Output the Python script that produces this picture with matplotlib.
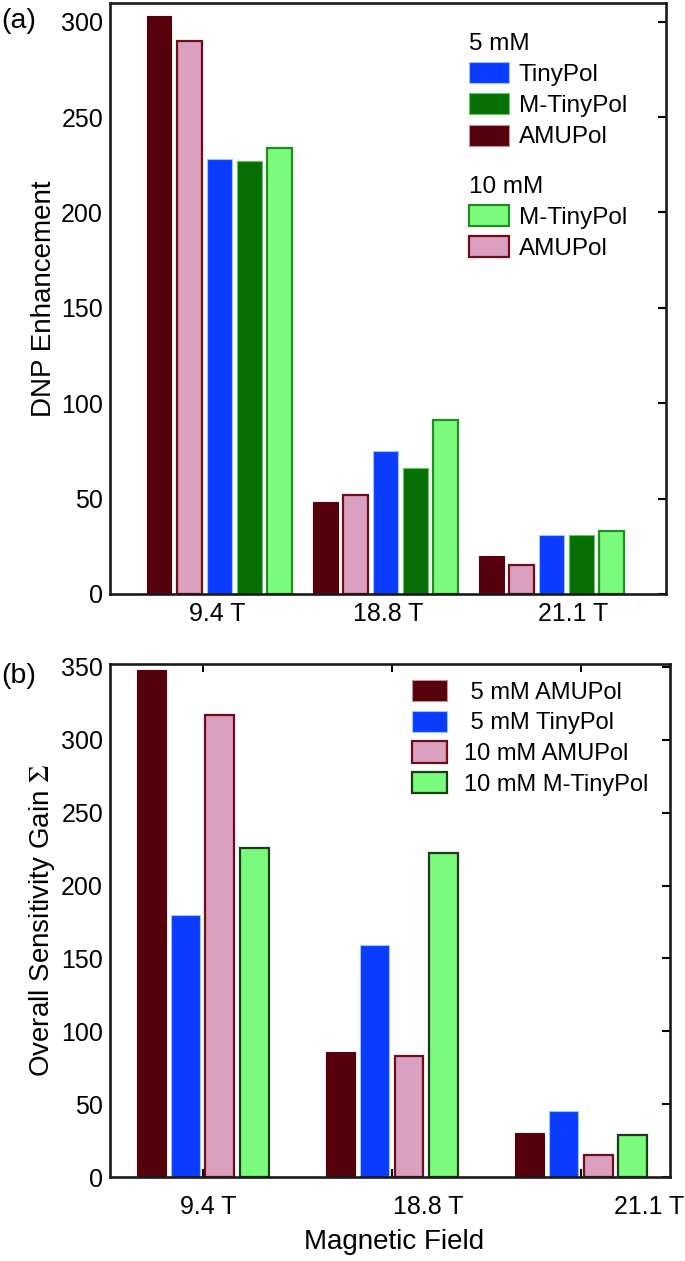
import matplotlib
matplotlib.use("Agg")
import matplotlib.pyplot as plt
import numpy as np
from matplotlib.patches import Patch

plt.rcParams['font.family'] = ['Liberation Sans', 'DejaVu Sans']
plt.rcParams['mathtext.fontset'] = 'stix'

# data
fields_a = ['9.4 T', '18.8 T', '21.1 T']
amupol5_a = [303, 48, 20]
amupol10_a = [290, 52, 15]
tinypol5_a = [228, 75, 31]
mtinypol5_a = [227, 66, 31]
mtinypol10_a = [234, 91, 33]

fields_b = ['9.4 T', '18.8 T', '21.1 T']
amupol5_b = [348, 86, 30]
tinypol5_b = [180, 159, 45]
amupol10_b = [317, 83, 15]
mtinypol10_b = [226, 222, 29]

# colours
c_red = '#55000b'
c_pink = '#dba0c0'
c_blue = '#0a3cff'
c_green = '#066f06'
c_lgreen = '#7bfb7b'
e_red = '#6e0d18'
e_pink = '#c88a9c'
e_blue = '#9cc4ff'
e_green = '#5ccc5c'

fig = plt.figure(figsize=(6.85, 12.61), dpi=100)

ax1 = fig.add_axes([0.1606, 0.529, 0.8117, 0.4686])
ax2 = fig.add_axes([0.1606, 0.0666, 0.8175, 0.4068])

# ---------- panel (a) ----------
x = np.arange(len(fields_a))
pitch = 0.181
w = 0.15
series_a = [
    (amupol5_a, c_red, c_red, 0.8),
    (amupol10_a, c_pink, e_red, 1.6),
    (tinypol5_a, c_blue, e_blue, 0.8),
    (mtinypol5_a, c_green, e_green, 0.8),
    (mtinypol10_a, c_lgreen, '#1e8f1e', 1.6),
]
for i, (vals, fc, ec, lw) in enumerate(series_a):
    ax1.bar(x + (i - 2) * pitch, vals, w, color=fc, edgecolor=ec, linewidth=lw)

ax1.set_xlim(-0.657, 2.69)
ax1.set_ylim(0, 309.8)
ax1.set_yticks([0, 50, 100, 150, 200, 250, 300])
ax1.set_xticks([-0.01, 1.015, 2.13])
ax1.set_xticklabels(fields_a)
ax1.tick_params(axis='x', length=0, pad=6, labelsize=18)
ax1.tick_params(axis='y', which='both', direction='in', right=True, length=6,
                width=1.5, pad=5, labelsize=18)
ax1.tick_params(axis='y', left=False)
ax1.set_ylabel('DNP Enhancement', fontsize=20)
ax1.yaxis.set_label_coords(-0.095, 0.5)

h5 = [Patch(facecolor=c_blue, edgecolor=e_blue, linewidth=0.8),
      Patch(facecolor=c_green, edgecolor=e_green, linewidth=0.8),
      Patch(facecolor=c_red, edgecolor=e_pink, linewidth=0.8)]
leg1 = ax1.legend(h5, ['TinyPol', 'M-TinyPol', 'AMUPol'], title='5 mM',
                  loc='upper left', bbox_to_anchor=(469 / 685, 1 - 33 / 1261),
                  bbox_transform=fig.transFigure, frameon=False, borderpad=0,
                  borderaxespad=0, alignment='left', fontsize=17.5, title_fontsize=17.5,
                  handlelength=1.65, handleheight=0.95, handletextpad=0.4,
                  labelspacing=0.3)
ax1.add_artist(leg1)
h10 = [Patch(facecolor=c_lgreen, edgecolor='#1e8f1e', linewidth=1.6),
       Patch(facecolor=c_pink, edgecolor=e_red, linewidth=1.6)]
ax1.legend(h10, ['M-TinyPol', 'AMUPol'], title='10 mM',
           loc='upper left', bbox_to_anchor=(469 / 685, 1 - 176 / 1261),
           bbox_transform=fig.transFigure, frameon=False, borderpad=0,
           borderaxespad=0, alignment='left', fontsize=17.5, title_fontsize=17.5,
           handlelength=1.65, handleheight=0.95, handletextpad=0.4,
           labelspacing=0.3)

# ---------- panel (b) ----------
xb = np.arange(len(fields_b))
pitch_b = 0.181
wb = 0.153
series_b = [
    (amupol5_b, c_red, c_red, 0.8, '5 mM AMUPol'),
    (tinypol5_b, c_blue, e_blue, 0.8, '5 mM TinyPol'),
    (amupol10_b, c_pink, e_red, 1.6, '10 mM AMUPol'),
    (mtinypol10_b, c_lgreen, '#1b3b1b', 1.6, '10 mM M-TinyPol'),
]
handles_b = []
for i, (vals, fc, ec, lw, lab) in enumerate(series_b):
    ax2.bar(xb + (i - 1.5) * pitch_b, vals, wb, color=fc, edgecolor=ec, linewidth=lw)
    hec = e_pink if fc == c_red else ec
    handles_b.append(Patch(facecolor=fc, edgecolor=hec, linewidth=lw))

ax2.set_xlim(-0.49, 2.47)
ax2.set_ylim(0, 352)
ax2.set_yticks([0, 50, 100, 150, 200, 250, 300, 350])
ax2.set_xticks(xb)
ax2.set_xticklabels([])
ax2.set_xticks([0.03, 1.19, 2.36], minor=True)
ax2.set_xticklabels(fields_b, minor=True)
ax2.tick_params(axis='x', which='major', direction='in', top=True, length=6,
                width=1.5)
ax2.tick_params(axis='x', which='minor', length=0, pad=13, labelsize=18)
ax2.tick_params(axis='y', direction='in', right=True, left=False, length=6,
                width=1.5, pad=5, labelsize=18)
ax2.set_ylabel(r'Overall Sensitivity Gain $\Sigma$', fontsize=20)
ax2.yaxis.set_label_coords(-0.095, 0.5)
ax2.set_xlabel('Magnetic Field', fontsize=20)
ax2.xaxis.set_label_coords(0.507, -0.102)

ax2.legend(handles_b, [' 5 mM AMUPol', ' 5 mM TinyPol', '10 mM AMUPol', '10 mM M-TinyPol'],
           loc='upper left', bbox_to_anchor=(412 / 685, 1 - 680 / 1261),
           bbox_transform=fig.transFigure, frameon=False, borderpad=0,
           borderaxespad=0, fontsize=17, handlelength=1.5, handleheight=1.0,
           handletextpad=0.7, labelspacing=0.3)

for ax in (ax1, ax2):
    for s in ax.spines.values():
        s.set_linewidth(1.9)
        s.set_color('#1a1a1a')

fig.text(0.002, 1 - 21 / 1261, '(a)', fontsize=20.5, va='center', ha='left')
fig.text(0.002, 1 - 676 / 1261, '(b)', fontsize=20.5, va='center', ha='left')

fig.savefig('out.png', dpi=100)
